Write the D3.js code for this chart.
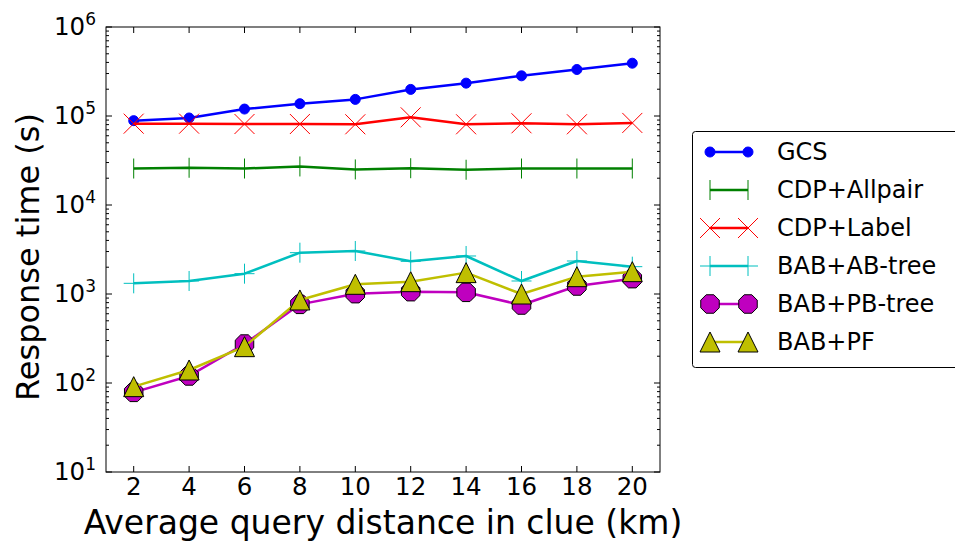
<!DOCTYPE html>
<html>
<head>
<meta charset="utf-8">
<script src="https://cdn.jsdelivr.net/npm/d3@7"></script>
<style>
  html, body { margin: 0; padding: 0; background: #fff; }
  svg { display: block; }
  text { font-family: "DejaVu Sans", sans-serif; fill: #000; }
</style>
</head>
<body>
<svg id="chart" width="955" height="546"></svg>
<script>
// Average query distance (km)
const distances = [2, 4, 6, 8, 10, 12, 14, 16, 18, 20];

// Response time (s) per method
const gcs        = [88700, 95000, 119700, 137500, 153700, 199000, 234000, 282800, 333000, 392000];
const cdpAllpair = [25700, 26200, 25700, 27100, 25100, 25900, 24900, 25700, 25700, 25700];
const cdpLabel   = [82000, 82000, 81300, 81300, 80700, 96600, 80700, 82800, 80700, 83600];
const babAB      = [1318, 1400, 1692, 2913, 3042, 2328, 2673, 1400, 2349, 2028];
const babPB      = [78.5, 120, 274, 765, 1009, 1062, 1044, 752, 1230, 1487];
const babPF      = [91, 140, 256, 857, 1285, 1376, 1738, 1000, 1566, 1782];

const seriesNames = ["GCS", "CDP+Allpair", "CDP+Label", "BAB+AB-tree", "BAB+PB-tree", "BAB+PF"];
const seriesValues = [gcs, cdpAllpair, cdpLabel, babAB, babPB, babPF];

const xTicks = [2, 4, 6, 8, 10, 12, 14, 16, 18, 20];
const yExponents = [1, 2, 3, 4, 5, 6];

const xLabel = "Average query distance in clue (km)";
const yLabel = "Response time (s)";

// Visual style per series
const styles = [
  { color: "#0000ff", marker: "circle",   fill: "#0000ff", edge: "#0000ff", size: 5 },
  { color: "#008000", marker: "vline",    size: 10 },
  { color: "#ff0000", marker: "x",        size: 10 },
  { color: "#00bfbf", marker: "plus",     size: 10 },
  { color: "#bf00bf", marker: "octagon",  fill: "#bf00bf", edge: "#000", size: 10 },
  { color: "#bfbf00", marker: "triangle", fill: "#bfbf00", edge: "#000", size: 10 }
];

const svg = d3.select("#chart");
const plot = { left: 106, right: 660, top: 27, bottom: 472 };

const x = d3.scaleLinear().domain([1, 21]).range([plot.left, plot.right]);
const y = d3.scaleLog().domain([10, 1e6]).range([plot.bottom, plot.top]);

// Marker path generator centred on (0,0)
function markerPath(type, s) {
  const p = d3.path();
  if (type === "circle") {
    p.arc(0, 0, s, 0, 2 * Math.PI);
  } else if (type === "vline") {
    p.moveTo(0, -s); p.lineTo(0, s);
  } else if (type === "x") {
    p.moveTo(-s, -s); p.lineTo(s, s);
    p.moveTo(-s, s); p.lineTo(s, -s);
  } else if (type === "plus") {
    p.moveTo(-s, 0); p.lineTo(s, 0);
    p.moveTo(0, -s); p.lineTo(0, s);
  } else if (type === "octagon") {
    for (let i = 0; i < 8; i++) {
      const a = Math.PI / 8 + i * Math.PI / 4;
      const px = s * Math.cos(a), py = s * Math.sin(a);
      if (i === 0) p.moveTo(px, py); else p.lineTo(px, py);
    }
    p.closePath();
  } else if (type === "triangle") {
    p.moveTo(0, -s); p.lineTo(-s, s); p.lineTo(s, s); p.closePath();
  }
  return p.toString();
}

function drawMarker(g, st, cx, cy) {
  const filled = st.marker === "circle" || st.marker === "octagon" || st.marker === "triangle";
  g.append("path")
    .attr("transform", `translate(${cx},${cy})`)
    .attr("d", markerPath(st.marker, st.size))
    .attr("fill", filled ? st.fill : "none")
    .attr("stroke", filled ? st.edge : st.color)
    .attr("stroke-width", 1);
}

// Series lines and markers
const line = d3.line().x(d => x(d[0])).y(d => y(d[1]));
const gSeries = svg.append("g");
seriesValues.forEach((vals, i) => {
  const st = styles[i];
  const pts = distances.map((d, j) => [d, vals[j]]);
  const g = gSeries.append("g");
  g.append("path").attr("d", line(pts))
    .attr("fill", "none").attr("stroke", st.color)
    .attr("stroke-width", 2.5).attr("stroke-linejoin", "round");
  pts.forEach(p => drawMarker(g, st, x(p[0]), y(p[1])));
});

// Frame
svg.append("rect")
  .attr("x", plot.left).attr("y", plot.top)
  .attr("width", plot.right - plot.left).attr("height", plot.bottom - plot.top)
  .attr("fill", "none").attr("stroke", "#000").attr("stroke-width", 1);

// X ticks (inward, top and bottom)
const gx = svg.append("g");
xTicks.forEach(t => {
  const px = x(t);
  gx.append("line").attr("x1", px).attr("x2", px).attr("y1", plot.bottom).attr("y2", plot.bottom - 6).attr("stroke", "#000");
  gx.append("line").attr("x1", px).attr("x2", px).attr("y1", plot.top).attr("y2", plot.top + 6).attr("stroke", "#000");
  gx.append("text").attr("x", px).attr("y", 495)
    .attr("text-anchor", "middle").attr("font-size", 24.5).text(t);
});

// Y ticks: major per decade, minor 2..9
const gy = svg.append("g");
yExponents.forEach(e => {
  const v = Math.pow(10, e);
  const py = y(v);
  gy.append("line").attr("x1", plot.left).attr("x2", plot.left + 6).attr("y1", py).attr("y2", py).attr("stroke", "#000");
  gy.append("line").attr("x1", plot.right).attr("x2", plot.right - 6).attr("y1", py).attr("y2", py).attr("stroke", "#000");
  const t = gy.append("text").attr("x", plot.left - 10).attr("y", py + 8)
    .attr("text-anchor", "end").attr("font-size", 24.5);
  t.append("tspan").text("10");
  t.append("tspan").attr("dy", -10).attr("font-size", 17).text(e);
  if (e < 6) {
    for (let m = 2; m <= 9; m++) {
      const my = y(m * v);
      gy.append("line").attr("x1", plot.left).attr("x2", plot.left + 3).attr("y1", my).attr("y2", my).attr("stroke", "#000");
      gy.append("line").attr("x1", plot.right).attr("x2", plot.right - 3).attr("y1", my).attr("y2", my).attr("stroke", "#000");
    }
  }
});

// Axis titles
svg.append("text")
  .attr("x", 383).attr("y", 534)
  .attr("text-anchor", "middle").attr("font-size", 33).text(xLabel);
svg.append("text")
  .attr("transform", "translate(39,257) rotate(-90)")
  .attr("text-anchor", "middle").attr("font-size", 32).text(yLabel);

// Legend
const leg = svg.append("g");
leg.append("rect")
  .attr("x", 692.5).attr("y", 131.5).attr("width", 275).attr("height", 236)
  .attr("rx", 3).attr("fill", "#fff").attr("stroke", "#000").attr("stroke-width", 1);
seriesNames.forEach((name, i) => {
  const st = styles[i];
  const ly = 152 + i * 38;
  const g = leg.append("g");
  g.append("line").attr("x1", 710).attr("x2", 748).attr("y1", ly).attr("y2", ly)
    .attr("stroke", st.color).attr("stroke-width", 2.5);
  drawMarker(g, st, 710, ly);
  drawMarker(g, st, 748, ly);
  g.append("text").attr("x", 777).attr("y", ly + 8).attr("font-size", 24).text(name);
});
</script>
</body>
</html>
